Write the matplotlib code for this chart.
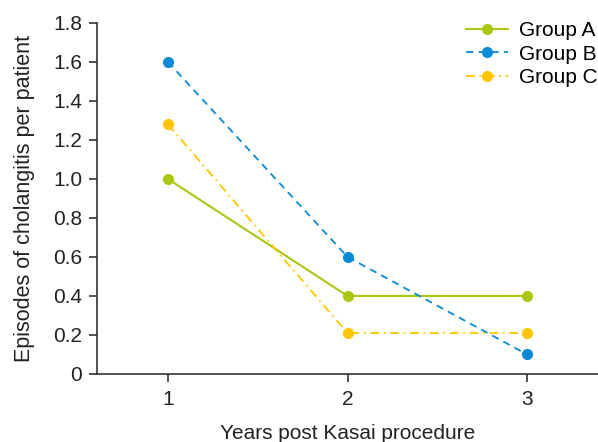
import matplotlib.pyplot as plt

plt.rcParams['font.family'] = ['Liberation Sans', 'DejaVu Sans']

years = [1, 2, 3]
group_a = [1.0, 0.4, 0.4]
group_b = [1.6, 0.6, 0.1]
group_c = [1.28, 0.21, 0.21]

fig = plt.figure(figsize=(5.98, 4.42), dpi=100)
ax = fig.add_axes([0.162, 0.154, 0.838, 0.794])

ax.plot(years, group_a, '-', color='#a8c814', lw=1.5, marker='o', ms=7, label='Group A')
ax.plot(years, group_b, '--', color='#0a8ad6', lw=1.3, marker='o', ms=7, label='Group B',
        dashes=(4, 3))
ax.plot(years, group_c, '-.', color='#ffc600', lw=1.3, marker='o', ms=7, label='Group C',
        dashes=(5, 2.5, 1, 2.5))

ax.set_xlim(0.604, 3.395)
ax.set_ylim(0, 1.8)
ax.set_xticks(years)
ax.set_yticks([0, 0.2, 0.4, 0.6, 0.8, 1.0, 1.2, 1.4, 1.6, 1.8])
ax.set_yticklabels(['0', '0.2', '0.4', '0.6', '0.8', '1.0', '1.2', '1.4', '1.6', '1.8'])
ax.spines['top'].set_visible(False)
ax.spines['right'].set_visible(False)
for s in ['left', 'bottom']:
    ax.spines[s].set_color('#333333')
    ax.spines[s].set_linewidth(1.2)
ax.tick_params(labelsize=15, color='#333333', labelcolor='#222222', length=5.5, width=1.2)
ax.tick_params(axis='y', pad=5)
ax.tick_params(axis='x', pad=6)
ax.set_xlabel('Years post Kasai procedure', fontsize=15, color='#222222', labelpad=11)
ax.set_ylabel('Episodes of cholangitis per patient', fontsize=15.5, color='#222222', labelpad=13)

ax.legend(loc='upper left', bbox_to_anchor=(466 / 598, 1 - 21 / 442),
          bbox_transform=fig.transFigure, frameon=False, fontsize=15,
          handlelength=2.0, handletextpad=0.55, labelspacing=0.22,
          borderaxespad=0, borderpad=0)

fig.savefig('out.png', dpi=100)
